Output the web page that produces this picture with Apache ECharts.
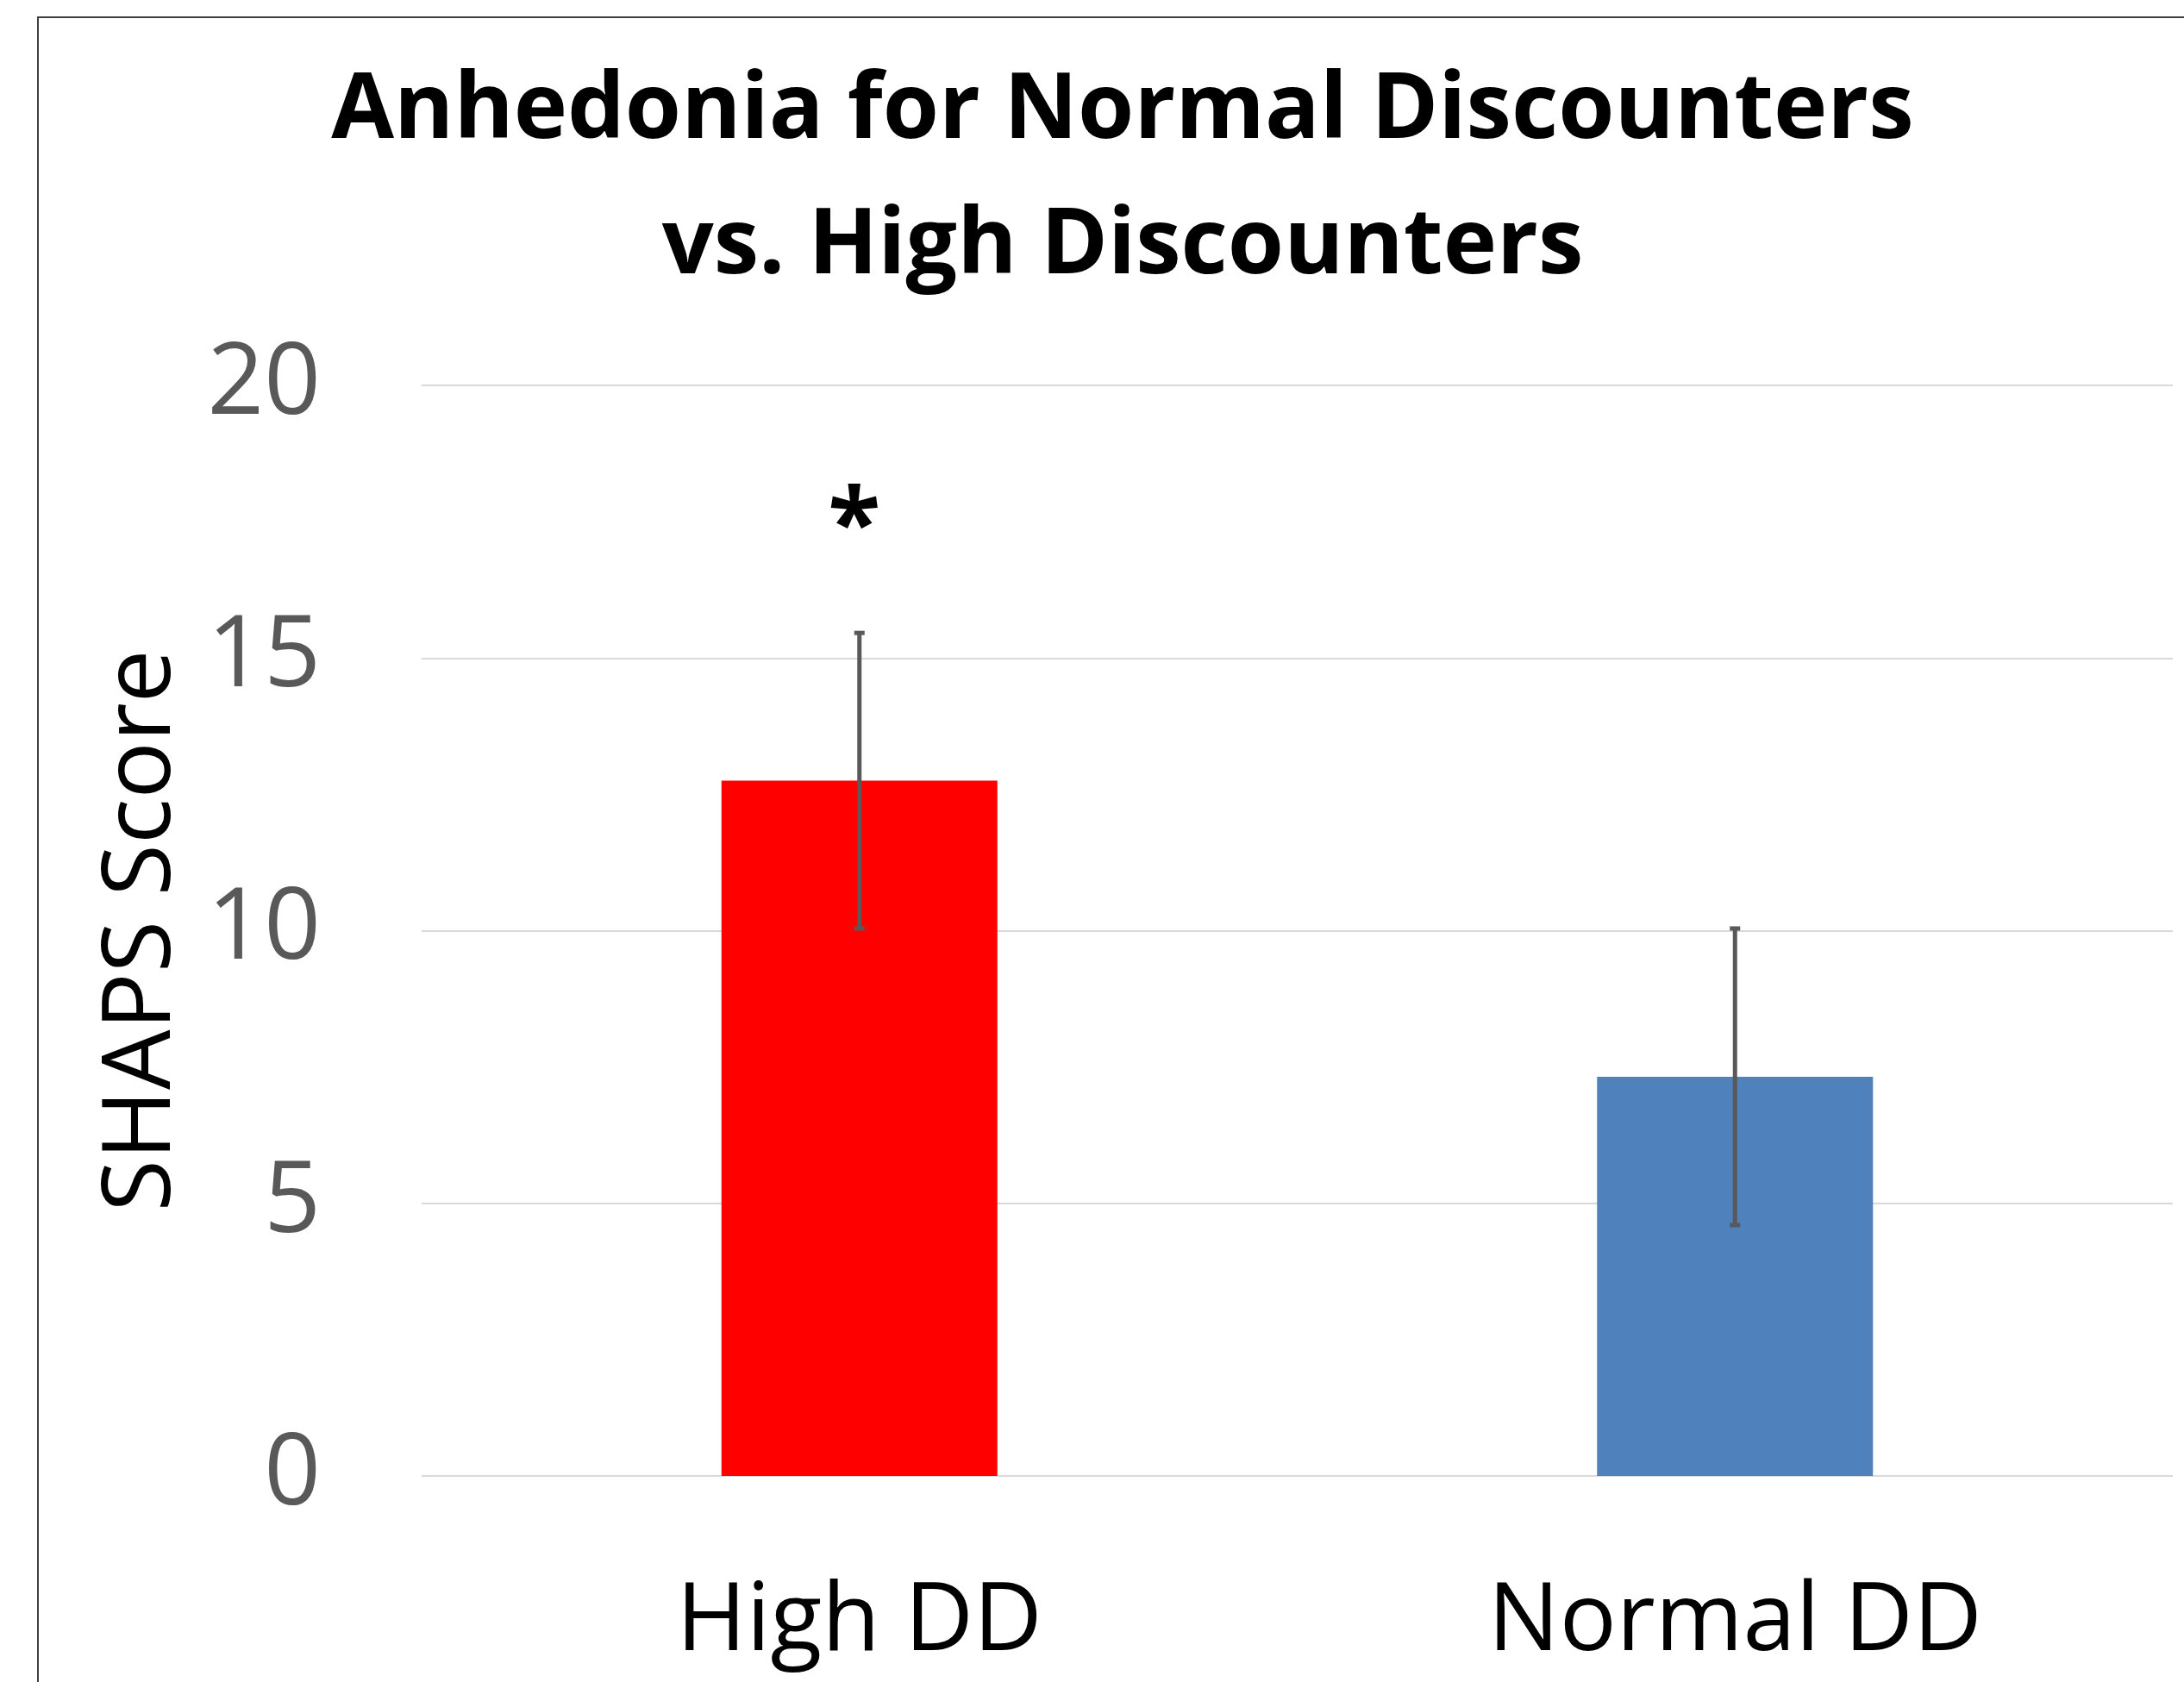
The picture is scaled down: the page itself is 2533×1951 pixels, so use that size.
<!DOCTYPE html>
<html>
<head>
<meta charset="utf-8">
<title>Anhedonia for Normal Discounters vs. High Discounters</title>
<script src="https://cdn.jsdelivr.net/npm/echarts@6.0.0/dist/echarts.min.js"></script>
<style>
  html, body { margin: 0; padding: 0; background: #fff; }
  #main { width: 2533px; height: 1951px; }
</style>
</head>
<body>
<div id="main"></div>
<script>
// values
const categories = ['High DD', 'Normal DD'];
const means = [12.75, 7.32];
const errLow = [10.04, 4.60];
const errHigh = [15.46, 10.04];
const sigMarks = ['*', ''];
const barColors = ['#FF0000', '#4F81BD'];
const yTicks = [0, 5, 10, 15, 20];

window.onload = function () {
  const dom = document.getElementById('main');
  const myChart = echarts.init(dom, null, { renderer: 'canvas' });

  const errData = categories.map((c, i) => [i, errLow[i], errHigh[i]]);

  const option = {
    backgroundColor: '#fff',
    animation: false,
    title: {
      text: 'Anhedonia for Normal Discounters\nvs. High Discounters',
      left: 1297,
      top: 46,
      textAlign: 'center',
      textStyle: {
        fontFamily: 'Open Sans',
        fontWeight: 'bold',
        fontSize: 105.5,
        lineHeight: 157,
        color: '#000'
      }
    },
    graphic: [{
      type: 'polyline',
      shape: { points: [[44, 1951], [44, 20], [2533, 20]] },
      style: { stroke: '#404040', lineWidth: 2, fill: null },
      silent: true
    }],
    grid: {
      left: 489,
      right: 13,
      top: 447,
      bottom: 239,
      containLabel: false,
      outerBoundsMode: 'none'
    },
    xAxis: {
      type: 'category',
      data: categories,
      axisLine: { show: false },
      axisTick: { show: false },
      axisLabel: {
        margin: 116,
        fontFamily: 'Open Sans',
        fontSize: 110,
        color: '#000'
      }
    },
    yAxis: {
      type: 'value',
      min: yTicks[0],
      max: yTicks[yTicks.length - 1],
      interval: 5,
      name: 'SHAPS Score',
      nameLocation: 'middle',
      nameGap: 268,
      nameTextStyle: {
        fontFamily: 'Open Sans',
        fontSize: 110,
        color: '#000'
      },
      axisLine: { show: false },
      axisTick: { show: false },
      splitLine: { lineStyle: { color: '#d9d9d9', width: 2 } },
      axisLabel: {
        margin: 117,
        fontFamily: 'Open Sans',
        fontSize: 115,
        color: '#595959'
      }
    },
    series: [{
      name: 'SHAPS',
      type: 'bar',
      barWidth: 320,
      data: means.map((v, i) => ({ value: v, itemStyle: { color: barColors[i] } }))
    }, {
      name: 'error',
      type: 'custom',
      data: errData,
      z: 10,
      renderItem: function (params, api) {
        const i = api.value(0);
        const top = api.coord([i, api.value(2)]);
        const bot = api.coord([i, api.value(1)]);
        const x = top[0];
        const st = { stroke: '#595959', lineWidth: 5 };
        return {
          type: 'group',
          children: [
            { type: 'line', shape: { x1: x, y1: top[1], x2: x, y2: bot[1] }, style: st },
            { type: 'line', shape: { x1: x - 6, y1: top[1], x2: x + 6, y2: top[1] }, style: st },
            { type: 'line', shape: { x1: x - 6, y1: bot[1], x2: x + 6, y2: bot[1] }, style: st },
            {
              type: 'text',
              style: {
                text: sigMarks[i],
                x: x - 6,
                y: top[1] - 120,
                fill: '#000',
                font: 'bold 112px "Open Sans"',
                align: 'center',
                verticalAlign: 'middle'
              }
            }
          ]
        };
      }
    }]
  };

  myChart.setOption(option, true);
};
</script>
</body>
</html>
